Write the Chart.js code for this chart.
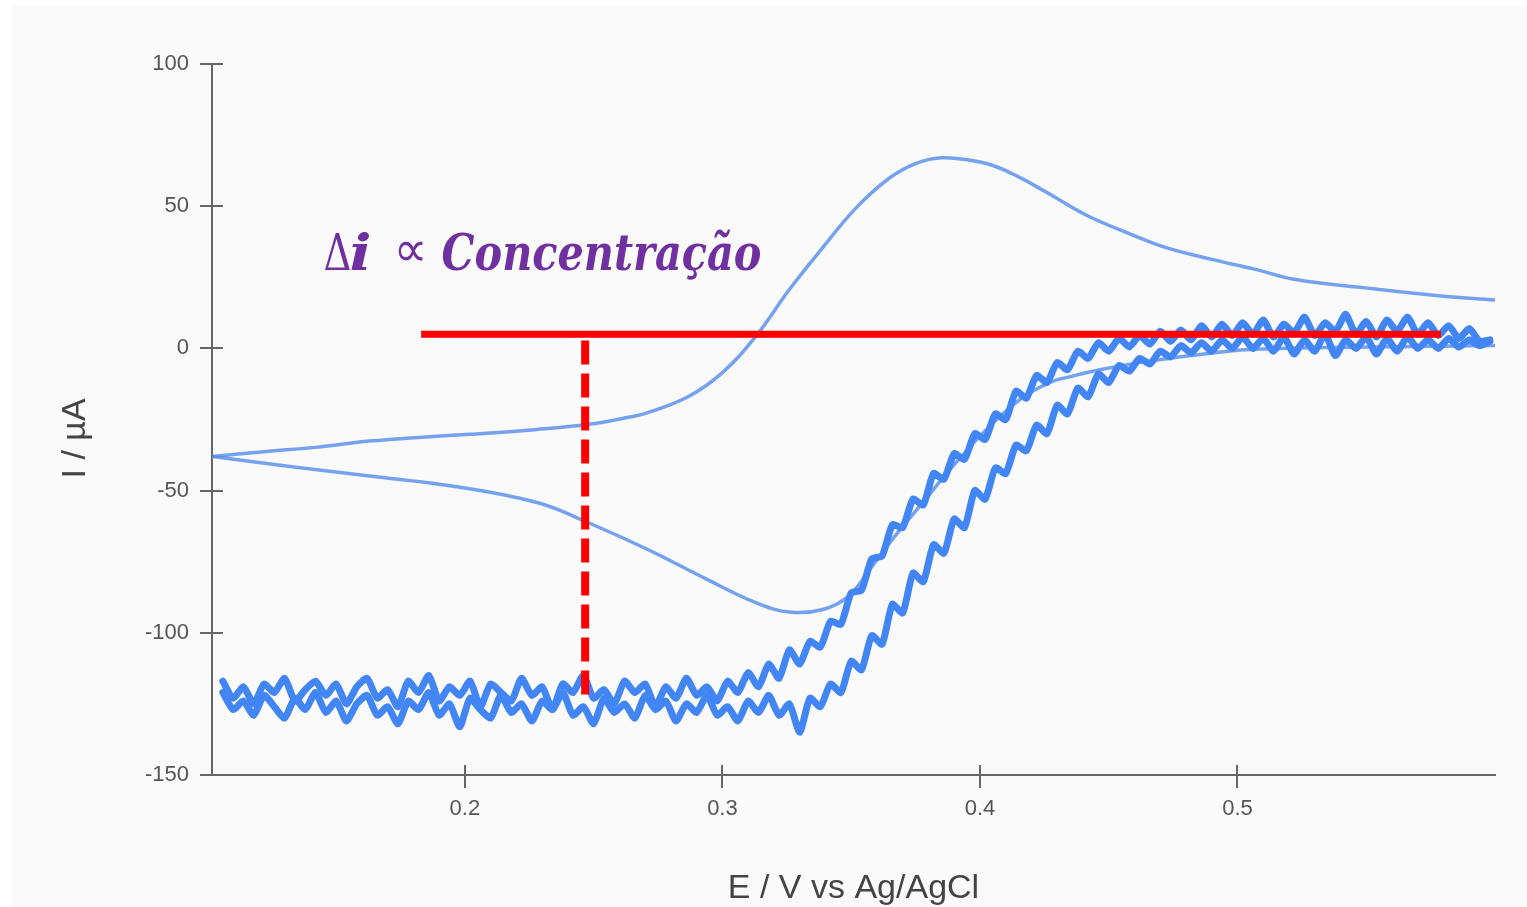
<!DOCTYPE html>
<html>
<head>
<meta charset="utf-8">
<script src="https://cdn.jsdelivr.net/npm/chart.js@4.4.1/dist/chart.umd.min.js"></script>
<style>
  html, body { margin: 0; padding: 0; background: #ffffff; }
  #cv { display: block; }
</style>
</head>
<body>
<canvas id="cv" width="1527" height="907"></canvas>
<script>
// axis ticks
const xTicks = [0.2, 0.3, 0.4, 0.5];
const yTicks = [-150, -100, -50, 0, 50, 100];

// thin CV (reference scan)
const cvUpperE = [0.102, 0.122, 0.142, 0.163, 0.182, 0.202, 0.228, 0.248, 0.262, 0.271, 0.287, 0.300, 0.313, 0.326, 0.339, 0.352, 0.365, 0.375, 0.385, 0.395, 0.405, 0.415, 0.426, 0.441, 0.457, 0.472, 0.490, 0.507, 0.522, 0.555, 0.577, 0.600];
const cvUpperI = [-38, -36.3, -34.8, -32.6, -31.3, -30.2, -28.5, -26.7, -24.5, -22.6, -16.8, -8.5, 4.3, 20.7, 35.5, 49.5, 60, 65, 67, 66.3, 64.3, 60.3, 54.8, 47, 40.7, 35.5, 31.3, 27.8, 24.3, 20.7, 18.6, 17];
const cvLowerE = [0.102, 0.132, 0.163, 0.195, 0.228, 0.248, 0.271, 0.294, 0.313, 0.326, 0.339, 0.349, 0.357, 0.367, 0.378, 0.388, 0.402, 0.4155, 0.427, 0.437, 0.447, 0.462, 0.482, 0.505, 0.552, 0.600];
const cvLowerI = [-38, -41.5, -44.9, -48.4, -54.2, -61.3, -70.7, -81.2, -89.4, -92.7, -91.8, -87.1, -78, -66, -54, -43, -29, -18, -12, -9.5, -7.4, -5, -2.5, -0.4, 0.5, 1];

// noisy scan, sampled every 4 mV from 0.106 V
const sweepE = Array.from({length: 124}, (_, i) => +(0.106 + i * 0.004).toFixed(3));
const scanA = [
  -117, -123, -119, -125, -118, -121, -116, -124, -120, -117,
  -122, -118, -125, -119, -116, -123, -120, -126, -117, -121,
  -115, -124, -119, -122, -117, -126, -118, -121, -124, -116,
  -122, -119, -127, -118, -121, -115, -123, -120, -125, -117,
  -121, -118, -126, -119, -123, -116, -122, -119, -124, -117,
  -121, -114, -119, -111, -116, -106, -111, -103, -105, -96,
  -97, -86, -85, -74, -73, -62, -63, -53, -55, -44,
  -46, -37, -39, -30, -32, -23, -25, -15, -17.5, -9.5,
  -12, -5, -7.5, -1, -3.5, 2, -1, 3.5, 0.5, 4.5,
  1.5, 6, 2.5, 6.5, 3, 8, 4, 8.5, 4.5, 9,
  5, 10, 4, 8.5, 5.5, 11, 4.5, 9, 6, 12,
  5, 9.5, 4, 10, 6, 11, 5, 9, 4.5, 8,
  3.5, 7, 2.5, 3
];
const scanB = [
  -121, -127, -124, -129, -122, -126, -130, -123, -127, -121,
  -128, -124, -131, -125, -122, -129, -126, -132, -124, -127,
  -121, -129, -125, -133, -123, -127, -130, -122, -128, -125,
  -131, -124, -127, -121, -129, -126, -132, -123, -128, -125,
  -130, -122, -127, -124, -131, -125, -128, -122, -129, -126,
  -131, -124, -128, -122, -129, -125, -135, -123, -126, -118,
  -121, -110, -113, -101, -104, -90, -93, -79, -82, -69,
  -72, -60, -63, -50, -53, -42, -44, -34, -36, -27,
  -30, -20, -23, -14, -17, -9, -12, -6, -8, -3.5,
  -5.5, -1, -3, 1, -1.5, 2, -1, 3, 0, 4,
  0, 3.5, -1, 4, -2, 3, -1, 5, -2.5, 3,
  0, 4, -2, 3.5, -1, 4, 0, 3, 0, 3.5,
  0.5, 3, 1, 2.5
];

// red markers
const levelE = [0.183, 0.579];
const levelI = [5, 5];
const dropE = [0.2467, 0.2467];
const dropI = [-121.7, 4];

// annotation anchor (data units)
const noteE = 0.1451;
const noteI = 27.4;

const pts = (xs, ys) => xs.map((v, i) => ({x: v, y: ys[i]}));

const axisGray = '#666666';
const labelFont = {family: '"Liberation Sans", Arial, sans-serif', size: 22};
const titleFont = {family: '"Liberation Sans", Arial, sans-serif', size: 34};

function fitText(ctx, text, font, left, base, width) {
    ctx.font = font;
    const w = ctx.measureText(text).width;
    ctx.save();
    ctx.translate(left, base);
    ctx.scale(width / w, 1);
    ctx.fillText(text, 0, 0);
    ctx.restore();
}

const extras = {
    id: 'extras',
    beforeDraw(chart) {
        const ctx = chart.ctx;
        ctx.save();
        ctx.fillStyle = '#ffffff';
        ctx.fillRect(0, 0, chart.width, chart.height);
        ctx.fillStyle = '#fafafa';
        ctx.fillRect(11, 5, chart.width - 11, chart.height - 5);
        ctx.restore();
    },
    afterDraw(chart) {
        const {ctx, chartArea} = chart;
        const {x, y} = chart.scales;
        ctx.save();
        // inner half of the crossing tick marks
        ctx.strokeStyle = axisGray;
        ctx.lineWidth = 2;
        ctx.beginPath();
        xTicks.forEach(v => {
            const px = Math.round(x.getPixelForValue(v));
            ctx.moveTo(px, chartArea.bottom);
            ctx.lineTo(px, chartArea.bottom - 10);
        });
        yTicks.forEach(v => {
            const py = Math.round(y.getPixelForValue(v));
            ctx.moveTo(chartArea.left, py);
            ctx.lineTo(chartArea.left + 11, py);
        });
        ctx.stroke();

        // Δi ∝ Concentração
        const left = x.getPixelForValue(noteE);
        const base = y.getPixelForValue(noteI);
        ctx.fillStyle = '#7030a0';
        ctx.textBaseline = 'alphabetic';
        ctx.textAlign = 'left';
        fitText(ctx, 'Δ', '50px "DejaVu Serif"', left, base, 28);
        fitText(ctx, 'i', 'italic bold 51px "DejaVu Serif"', left + 26, base, 22);
        fitText(ctx, '∝', '50px "DejaVu Sans"', left + 70, base - 4, 34);
        fitText(ctx, 'Concentração', 'italic bold 51px "DejaVu Serif"', left + 118, base, 320);
        ctx.restore();
    }
};

const data = {
    datasets: [
        {
            data: pts(levelE, levelI),
            borderColor: '#ff0000',
            borderWidth: 7,
            pointRadius: 0,
            order: 0
        },
        {
            data: pts(dropE, dropI),
            borderColor: '#ff0000',
            borderWidth: 8,
            borderDash: [24, 9],
            pointRadius: 0,
            order: 0
        },
        {
            data: pts(sweepE, scanA),
            borderColor: '#4285f4',
            borderWidth: 7,
            borderJoinStyle: 'round',
            borderCapStyle: 'round',
            tension: 0.2,
            pointRadius: 0,
            order: 1
        },
        {
            data: pts(sweepE, scanB),
            borderColor: '#4285f4',
            borderWidth: 7,
            borderJoinStyle: 'round',
            borderCapStyle: 'round',
            tension: 0.2,
            pointRadius: 0,
            order: 1
        },
        {
            data: pts(cvUpperE, cvUpperI),
            borderColor: 'rgba(84, 140, 236, 0.8)',
            borderWidth: 3.5,
            tension: 0.4,
            pointRadius: 0,
            order: 2
        },
        {
            data: pts(cvLowerE, cvLowerI),
            borderColor: 'rgba(84, 140, 236, 0.8)',
            borderWidth: 3.5,
            tension: 0.4,
            pointRadius: 0,
            order: 2
        }
    ]
};

const cvConfig = {
    type: 'scatter',
    data,
    options: {
        responsive: false,
        animation: false,
        devicePixelRatio: 1,
        showLine: true,
        layout: {
            padding: {top: 64, right: 32, left: 0, bottom: 0}
        },
        plugins: {
            legend: {display: false},
            tooltip: {enabled: false}
        },
        scales: {
            x: {
                type: 'linear',
                min: 0.1018,
                max: 0.6,
                afterBuildTicks: (scale) => { scale.ticks = xTicks.map(v => ({value: v})); },
                afterFit: (scale) => { scale.height = 132; },
                ticks: {
                    callback: (v) => String(v),
                    color: '#555555',
                    font: labelFont,
                    padding: 8,
                    maxRotation: 0
                },
                grid: {
                    drawOnChartArea: false,
                    drawTicks: true,
                    tickLength: 13,
                    color: axisGray,
                    lineWidth: 2
                },
                border: {color: axisGray, width: 2},
                title: {
                    display: true,
                    text: 'E / V vs Ag/AgCl',
                    color: '#444444',
                    font: titleFont,
                    padding: {top: 0, bottom: -2}
                }
            },
            y: {
                type: 'linear',
                min: -150,
                max: 100,
                afterBuildTicks: (scale) => { scale.ticks = yTicks.map(v => ({value: v})); },
                afterFit: (scale) => { scale.width = 212; },
                ticks: {
                    callback: (v) => String(v),
                    color: '#555555',
                    font: labelFont,
                    padding: 11
                },
                grid: {
                    drawOnChartArea: false,
                    drawTicks: true,
                    tickLength: 12,
                    color: axisGray,
                    lineWidth: 2
                },
                border: {color: axisGray, width: 2},
                title: {
                    display: true,
                    text: 'I / µA    ',
                    color: '#444444',
                    font: titleFont,
                    padding: {top: 55, bottom: 0}
                }
            }
        }
    },
    plugins: [extras]
};

const cvChart = new Chart(document.getElementById('cv'), cvConfig);
</script>
</body>
</html>
